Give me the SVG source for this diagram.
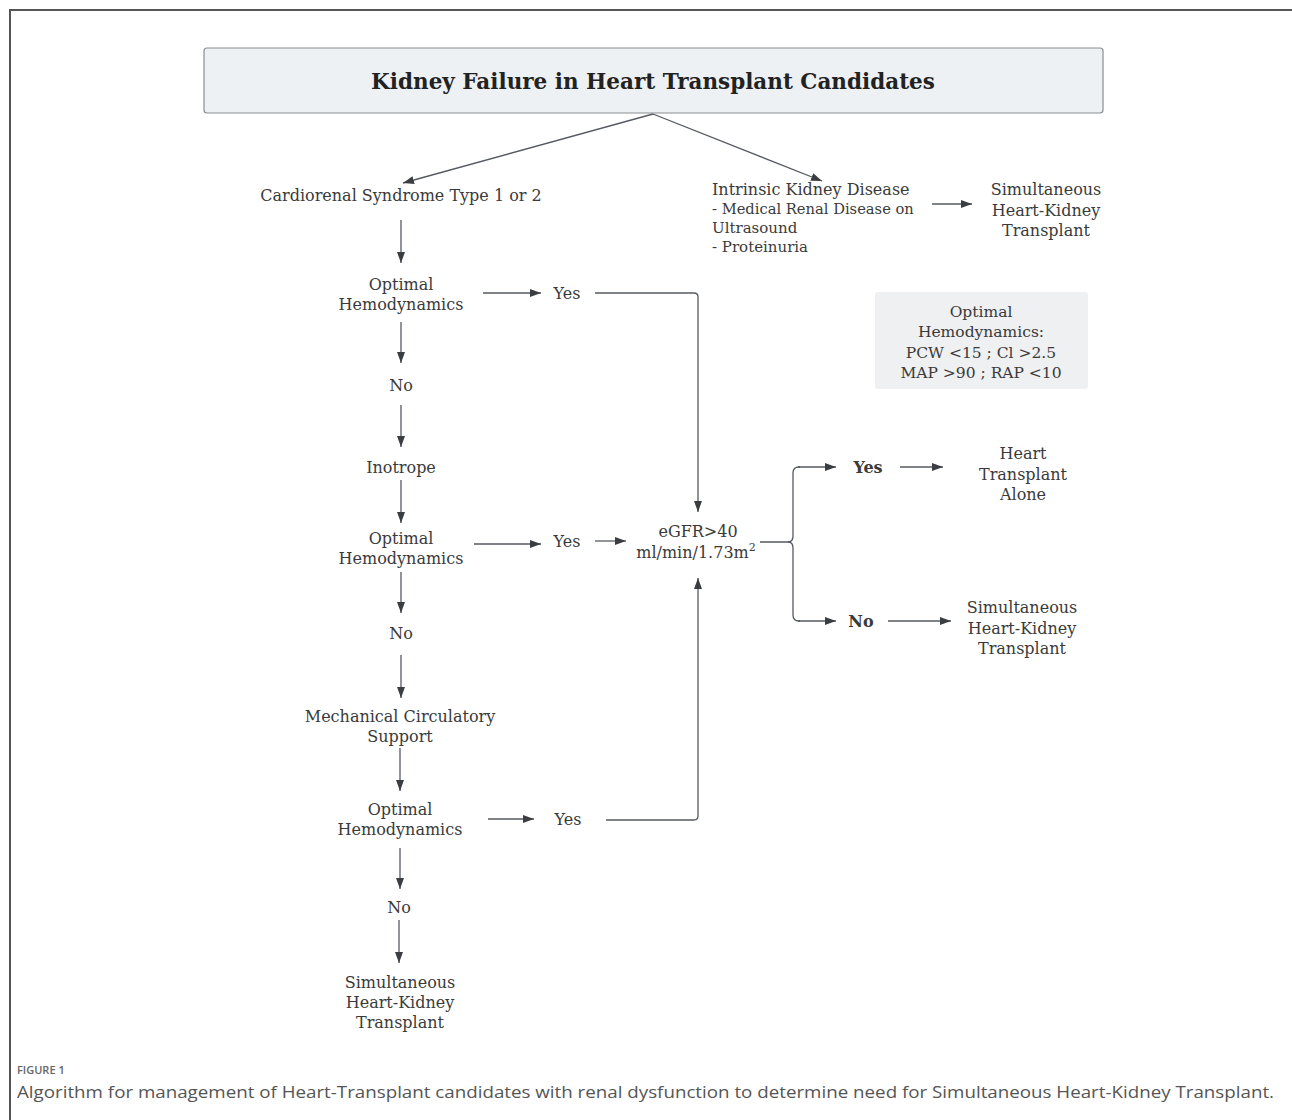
<svg xmlns="http://www.w3.org/2000/svg" width="1292" height="1120" viewBox="0 0 1292 1120">
<defs>
<marker id="ah" markerWidth="12" markerHeight="10" refX="11" refY="5" orient="auto" markerUnits="userSpaceOnUse">
<path d="M0,1 L11,5 L0,9 Z" fill="#3a3d42"/>
</marker>
<style>
.t{font-family:"DejaVu Serif","Liberation Serif",serif;font-size:16px;fill:#3a3a3a;text-anchor:middle}
.l{text-anchor:start}
.b{font-weight:bold}
.c{fill:none;stroke:#555a60;stroke-width:1.3}
.a{marker-end:url(#ah)}
</style>
</defs>
<rect width="1292" height="1120" fill="#ffffff"/>
<path d="M10,1120 V10 H1292" fill="none" stroke="#555" stroke-width="2"/>

<g id="title">
<rect x="204" y="48" width="899" height="65" rx="3" fill="#eef1f3" stroke="#8a8d90" stroke-width="1.2"/>
<text class="t b" x="653" y="89" style="font-size:21.5px;fill:#222">Kidney Failure in Heart Transplant Candidates</text>
</g>
<g id="crs"><text class="t" x="401" y="201">Cardiorenal Syndrome Type 1 or 2</text></g>
<g id="ikd">
<text class="t l" x="712" y="195">Intrinsic Kidney Disease</text>
<text class="t l" x="712" y="214" style="font-size:14.7px">- Medical Renal Disease on</text>
<text class="t l" x="712" y="233" style="font-size:15px">Ultrasound</text>
<text class="t l" x="712" y="252" style="font-size:15px">- Proteinuria</text>
</g>
<g id="shk1">
<text class="t" x="1046" y="195">Simultaneous</text>
<text class="t" x="1046" y="216">Heart-Kidney</text>
<text class="t" x="1046" y="236">Transplant</text>
</g>
<g id="info">
<rect x="875" y="292" width="213" height="97" rx="3" fill="#eef0f1"/>
<text class="t" x="981" y="317" style="font-size:15.5px">Optimal</text>
<text class="t" x="981" y="337" style="font-size:15.5px">Hemodynamics:</text>
<text class="t" x="981" y="358" style="font-size:15.5px">PCW &lt;15 ; Cl &gt;2.5</text>
<text class="t" x="981" y="378" style="font-size:15.5px">MAP &gt;90 ; RAP &lt;10</text>
</g>
<g id="oh1">
<text class="t" x="401" y="290">Optimal</text>
<text class="t" x="401" y="310">Hemodynamics</text>
</g>
<g id="yes1"><text class="t" x="567" y="299">Yes</text></g>
<g id="no1"><text class="t" x="401" y="391">No</text></g>
<g id="ino"><text class="t" x="401" y="473">Inotrope</text></g>
<g id="oh2">
<text class="t" x="401" y="544">Optimal</text>
<text class="t" x="401" y="564">Hemodynamics</text>
</g>
<g id="yes2"><text class="t" x="567" y="547">Yes</text></g>
<g id="egfr">
<text class="t" x="698" y="537">eGFR&gt;40</text>
<text class="t" x="696" y="558">ml/min/1.73m<tspan dy="-7" style="font-size:11px">2</tspan></text>
</g>
<g id="no2"><text class="t" x="401" y="639">No</text></g>
<g id="mcs">
<text class="t" x="400" y="722">Mechanical Circulatory</text>
<text class="t" x="400" y="742">Support</text>
</g>
<g id="oh3">
<text class="t" x="400" y="815">Optimal</text>
<text class="t" x="400" y="835">Hemodynamics</text>
</g>
<g id="yes3"><text class="t" x="568" y="825">Yes</text></g>
<g id="no3"><text class="t" x="399" y="913">No</text></g>
<g id="shk2">
<text class="t" x="400" y="988">Simultaneous</text>
<text class="t" x="400" y="1008">Heart-Kidney</text>
<text class="t" x="400" y="1028">Transplant</text>
</g>
<g id="yesB"><text class="t b" x="868" y="473">Yes</text></g>
<g id="hta">
<text class="t" x="1023" y="459">Heart</text>
<text class="t" x="1023" y="480">Transplant</text>
<text class="t" x="1023" y="500">Alone</text>
</g>
<g id="noB"><text class="t b" x="861" y="627">No</text></g>
<g id="shk3">
<text class="t" x="1022" y="613">Simultaneous</text>
<text class="t" x="1022" y="634">Heart-Kidney</text>
<text class="t" x="1022" y="654">Transplant</text>
</g>

<g id="connectors">
<line class="c a" x1="653" y1="114" x2="403" y2="183"/>
<line class="c a" x1="653" y1="114" x2="822" y2="181"/>
<line class="c a" x1="932" y1="204" x2="972" y2="204"/>
<line class="c a" x1="401" y1="220" x2="401" y2="263"/>
<line class="c a" x1="483" y1="293" x2="541" y2="293"/>
<path class="c a" d="M595,293 H694 Q698,293 698,297 V512"/>
<line class="c a" x1="401" y1="322" x2="401" y2="363"/>
<line class="c a" x1="401" y1="405" x2="401" y2="447"/>
<line class="c a" x1="401" y1="480" x2="401" y2="523"/>
<line class="c a" x1="474" y1="544" x2="541" y2="544"/>
<line class="c a" x1="595" y1="541" x2="626" y2="541"/>
<line class="c a" x1="401" y1="572" x2="401" y2="613"/>
<line class="c a" x1="401" y1="655" x2="401" y2="698"/>
<line class="c a" x1="400" y1="748" x2="400" y2="791"/>
<line class="c a" x1="488" y1="819" x2="534" y2="819"/>
<path class="c a" d="M606,820 H694 Q698,820 698,816 V578"/>
<line class="c a" x1="400" y1="848" x2="400" y2="889"/>
<line class="c a" x1="399" y1="920" x2="399" y2="963"/>
<path class="c" d="M760,542 H788 Q793,542 793,536 V473 Q793,467 799,467 H800"/>
<path class="c a" d="M798,467 H836"/>
<path class="c" d="M788,542 Q793,542 793,548 V615 Q793,621 799,621 H800"/>
<path class="c a" d="M798,621 H836"/>
<line class="c a" x1="900" y1="467" x2="943" y2="467"/>
<line class="c a" x1="888" y1="621" x2="951" y2="621"/>
</g>

<g id="caption">
<text x="17" y="1074" style="font-family:'Open Sans','Noto Sans',sans-serif;font-size:11px;font-weight:600;fill:#666">FIGURE 1</text>
<text x="17" y="1098" textLength="1257" lengthAdjust="spacingAndGlyphs" style="font-family:'Open Sans','Noto Sans',sans-serif;font-size:17px;fill:#555">Algorithm for management of Heart-Transplant candidates with renal dysfunction to determine need for Simultaneous Heart-Kidney Transplant.</text>
</g>
</svg>
